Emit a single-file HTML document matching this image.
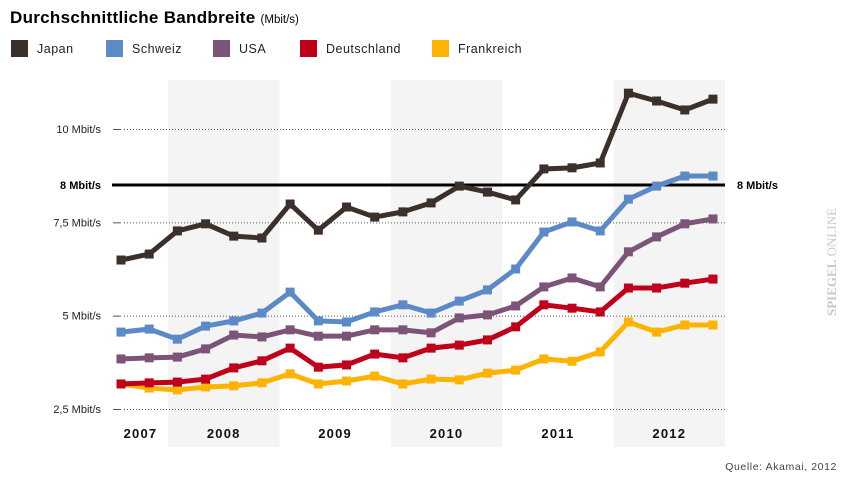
<!DOCTYPE html>
<html><head><meta charset="utf-8">
<style>
html,body{margin:0;padding:0;background:#fff;}
svg{display:block;font-family:"Liberation Sans",Arial,sans-serif;}
</style></head>
<body>
<svg id="chart" width="850" height="486" viewBox="0 0 850 486" xmlns="http://www.w3.org/2000/svg">
<text x="10" y="23" font-size="17" font-weight="bold" fill="#000" letter-spacing="0.3">Durchschnittliche Bandbreite <tspan font-size="11.5" font-weight="normal" letter-spacing="0">(Mbit/s)</tspan></text>
<g id="legend"></g>
<g id="bands"></g>
<g id="grid"></g>
<g id="series"></g>
<g id="xlabels"></g>
<text transform="translate(836,316) rotate(-90)" font-size="13" fill="#c8c8c8" font-family="Liberation Serif, serif"><tspan font-weight="bold">SPIEGEL</tspan> ONLINE</text>
<text x="837" y="470" text-anchor="end" font-size="10.5" fill="#444" letter-spacing="0.6">Quelle: Akamai, 2012</text>
</svg>
<script>
const years = ["2007","2008","2009","2010","2011","2012"];
const yearQuarters = [2,4,4,4,4,4];
const seriesNames = ["Japan","Schweiz","USA","Deutschland","Frankreich"];
const seriesColors = ["#3b302c","#5b8ac6","#7c5478","#c0001b","#fdb300"];
const japan = [6.49,6.65,7.27,7.46,7.13,7.08,7.99,7.29,7.91,7.64,7.78,8.02,8.47,8.31,8.10,8.93,8.96,9.09,10.96,10.75,10.51,10.80];
const schweiz = [4.56,4.64,4.37,4.72,4.86,5.07,5.63,4.86,4.83,5.10,5.29,5.07,5.39,5.69,6.25,7.24,7.51,7.27,8.12,8.47,8.74,8.74];
const usa = [3.84,3.87,3.89,4.11,4.48,4.43,4.62,4.45,4.45,4.62,4.62,4.54,4.94,5.02,5.26,5.77,6.01,5.77,6.71,7.11,7.46,7.59];
const deutschland = [3.17,3.20,3.22,3.30,3.60,3.79,4.13,3.62,3.68,3.97,3.87,4.13,4.21,4.35,4.70,5.29,5.20,5.10,5.74,5.74,5.87,5.98];
const frankreich = [3.17,3.06,3.01,3.09,3.12,3.20,3.44,3.17,3.25,3.38,3.17,3.30,3.28,3.46,3.54,3.84,3.78,4.03,4.83,4.56,4.75,4.75];
const yTicks = [10,7.5,5,2.5];
const yTickLabels = ["10 Mbit/s","7,5 Mbit/s","5 Mbit/s","2,5 Mbit/s"];
const refValue = 8.5;
const refLabel = "8 Mbit/s";

const NS="http://www.w3.org/2000/svg";
const allSeries=[japan,schweiz,usa,deutschland,frankreich];
function y(v){return 129+(10-v)*37.33;}
function x(i){return 121+i*28.19;}
function yearEdge(k){return k===0?113:(k>=years.length?725:168+111.4*(k-1));}
function mk(tag,attrs,parent){const e=document.createElementNS(NS,tag);for(const k in attrs)e.setAttribute(k,attrs[k]);parent.appendChild(e);return e;}

// legend
const lg=document.getElementById('legend');
const lx=[11,106,213,300,432];
seriesNames.forEach((n,i)=>{
  const r=mk('rect',{x:lx[i],y:40,width:17,height:17,fill:seriesColors[i]},lg);
  
  
  const t=mk('text',{x:lx[i]+26,y:53,'font-size':12.5,fill:'#222','letter-spacing':'0.5'},lg);
  t.textContent=n;
  
  
});

// bands & year labels
const bg=document.getElementById('bands'), xl=document.getElementById('xlabels');
years.forEach((yr,i)=>{
  const left=yearEdge(i), right=yearEdge(i+1);
  if(i%2===1){
    const r=mk('rect',{x:left,y:80,width:right-left,height:367,fill:'#f4f4f4'},bg);
    
    
  }
  const t=mk('text',{x:(left+right)/2,y:438,'text-anchor':'middle','font-size':13,'font-weight':'bold',fill:'#111','letter-spacing':'1.2'},xl);
  t.textContent=yr;
  
  
});

// grid
const gg=document.getElementById('grid');
yTicks.forEach((v,i)=>{
  const l=mk('line',{x1:124,x2:725,y1:y(v)+0.5,y2:y(v)+0.5,stroke:'#555','stroke-width':1,'stroke-dasharray':'1,2'},gg);
  
  
  const tk=mk('line',{x1:113,x2:121,y1:y(v)+0.5,y2:y(v)+0.5,stroke:'#555','stroke-width':1},gg);
  
  
  const t=mk('text',{x:101,y:y(v)+4,'text-anchor':'end','font-size':11,fill:'#222'},gg);
  t.textContent=yTickLabels[i];
  
  
});
const rl=mk('line',{x1:112,x2:725,y1:y(refValue),y2:y(refValue),stroke:'#000','stroke-width':3},gg);


const rt1=mk('text',{x:101,y:y(refValue)+4,'text-anchor':'end','font-size':11,'font-weight':'bold',fill:'#000'},gg);
rt1.textContent=refLabel;


const rt2=mk('text',{x:737,y:y(refValue)+4,'font-size':11,'font-weight':'bold',fill:'#000'},gg);
rt2.textContent=refLabel;



// series (draw bottom first)
const sg=document.getElementById('series');
for(let s=allSeries.length-1;s>=0;s--){
  const d=allSeries[s];
  const g=mk('g',{},sg);
  
  
  const pl=mk('polyline',{points:d.map((v,i)=>x(i)+','+y(v)).join(' '),fill:'none',stroke:seriesColors[s],'stroke-width':5,'stroke-linejoin':'miter'},g);
  
  
  d.forEach((v,i)=>{
    const r=mk('rect',{x:x(i)-4.5,y:y(v)-4.5,width:9,height:9,fill:seriesColors[s]},g);
    
    
  });
}
</script>
</body></html>
